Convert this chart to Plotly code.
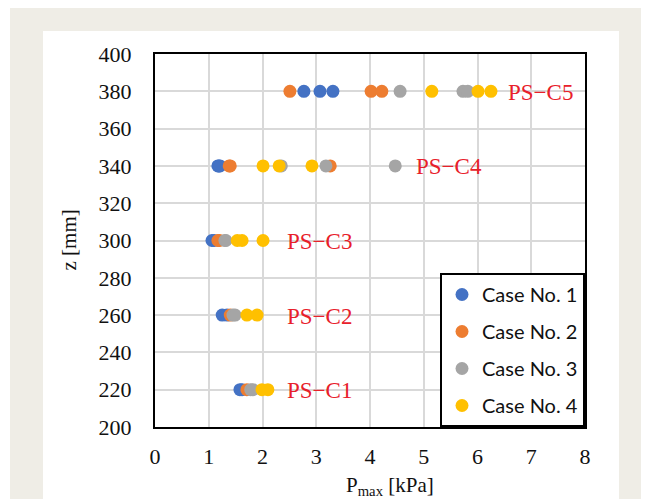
import plotly.graph_objects as go

# z levels [mm]
z_levels = [380, 340, 300, 260, 220]
level_labels = ["PS−C5", "PS−C4", "PS−C3", "PS−C2", "PS−C1"]
label_x = [6.53, 4.82, 2.42, 2.42, 2.42]

# Pmax [kPa] per case, one list per z level (same order as z_levels)
case1 = [[2.77, 3.07, 3.31], [1.17, 1.19, 1.21], [1.06, 1.10], [1.25, 1.34], [1.58, 1.62]]
case2 = [[2.51, 4.02, 4.22], [1.38, 1.40, 3.26], [1.17, 1.20], [1.40], [1.71]]
case3 = [[4.56, 5.73, 5.82], [2.35, 3.18, 4.47], [1.30, 1.32], [1.45, 1.49], [1.78, 1.82]]
case4 = [[5.15, 6.01, 6.25], [2.01, 2.31, 2.92], [1.53, 1.62, 2.01], [1.71, 1.90], [1.99, 2.10]]

case_names = ["Case No. 1", "Case No. 2", "Case No. 3", "Case No. 4"]
case_colors = ["#4472C4", "#ED7D31", "#A5A5A5", "#FFC000"]

fig = go.Figure()
for i, (name, data, col) in enumerate(zip(case_names, [case1, case2, case3, case4], case_colors)):
    xs, ys = [], []
    for z, vals in zip(z_levels, data):
        xs += vals
        ys += [z] * len(vals)
    fig.add_trace(go.Scatter(
        x=xs, y=ys, mode="markers", name=name, legendgroup=f"g{i}",
        marker=dict(color=col, size=13, line=dict(width=0)),
    ))

for z, lab, lx in zip(z_levels, level_labels, label_x):
    fig.add_annotation(x=lx, y=z, text=lab, showarrow=False, xanchor="left", yanchor="middle",
                       yshift=-1, font=dict(family="Liberation Serif", size=23, color="#E8202A"))

serif = "Liberation Serif"
fig.update_xaxes(range=[0, 8], dtick=1, showgrid=True, gridcolor="#D9D9D9", gridwidth=1.5,
                 showline=True, linecolor="black", linewidth=2, mirror=True, zeroline=False,
                 tickfont=dict(family=serif, size=22, color="#111"), ticks="", ticklabelstandoff=9)
fig.update_yaxes(range=[200, 400], dtick=20, showgrid=True, gridcolor="#D9D9D9", gridwidth=1.5,
                 showline=True, linecolor="black", linewidth=2, mirror=True, zeroline=False,
                 tickfont=dict(family=serif, size=22, color="#111"), ticks="", ticklabelstandoff=17)

# axis titles
fig.add_annotation(xref="paper", yref="paper", x=(390 - 155) / 430, y=(427 - 486) / 373,
                   text="P<sub>max</sub> [kPa]", showarrow=False, xanchor="center", yanchor="middle",
                   font=dict(family=serif, size=21, color="#111"))
fig.add_annotation(xref="paper", yref="paper", x=(68 - 155) / 430, y=0.5,
                   text="z [mm]", showarrow=False, textangle=-90, xanchor="center", yanchor="middle",
                   font=dict(family=serif, size=21, color="#111"))

# page background panels
fig.add_shape(type="rect", xref="paper", yref="paper", layer="below",
              x0=(10 - 155) / 430, x1=(641 - 155) / 430, y0=(427 - 499) / 373, y1=(427 - 8) / 373,
              fillcolor="#EFEDE6", line=dict(width=0))
fig.add_shape(type="rect", xref="paper", yref="paper", layer="below",
              x0=(43 - 155) / 430, x1=(619 - 155) / 430, y0=(427 - 499) / 373, y1=(427 - 31) / 373,
              fillcolor="white", line=dict(width=0))

fig.update_layout(
    width=650, height=499,
    margin=dict(l=155, r=65, t=54, b=72),
    paper_bgcolor="white", plot_bgcolor="rgba(0,0,0,0)",
    showlegend=True,
    legend=dict(x=1.0, y=0.0, xanchor="right", yanchor="bottom",
                bgcolor="white", bordercolor="black", borderwidth=2,
                font=dict(family="Lato", size=20, color="#111"),
                tracegroupgap=8, itemwidth=30),
)

fig.write_html("out.html", config={"displayModeBar": False},
               post_script="document.body.style.margin='0';document.body.style.overflow='hidden';")
